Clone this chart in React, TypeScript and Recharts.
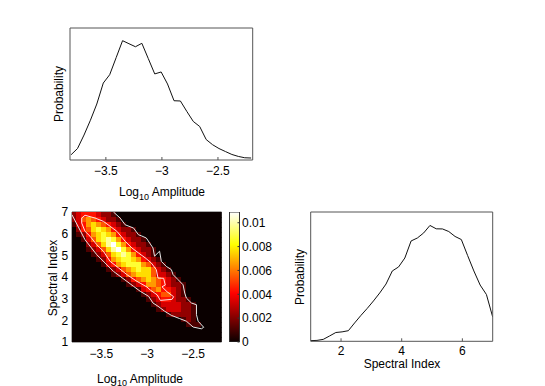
import React from "react";
import {
  LineChart, Line, ScatterChart, Scatter, BarChart, Bar,
  XAxis, YAxis,
} from "recharts";

const W = 545;
const H = 386;
const FONT = "'Liberation Sans', Arial, Helvetica, sans-serif";
const AXIS = "#555";

// marginal of log10 amplitude (bin centres, probability)
const ampBins = [
  -3.81, -3.753, -3.695, -3.638, -3.581, -3.523, -3.466, -3.408, -3.351, -3.294,
  -3.236, -3.179, -3.122, -3.064, -3.007, -2.95, -2.892, -2.835, -2.777, -2.72,
  -2.663, -2.605, -2.548, -2.491, -2.433, -2.376, -2.318, -2.261, -2.204,
];
const ampProb = [
  0.004, 0.0087, 0.0189, 0.0301, 0.0424, 0.0583, 0.0646, 0.0776, 0.0904, 0.0881,
  0.0858, 0.0884, 0.0769, 0.0652, 0.0667, 0.0576, 0.0449, 0.0447, 0.0367, 0.0292,
  0.0254, 0.0155, 0.0116, 0.0087, 0.0064, 0.0042, 0.0027, 0.0017, 0.0015,
];

// marginal of spectral index
const gammaBins = [
  1.0, 1.207, 1.414, 1.621, 1.828, 2.034, 2.241, 2.448, 2.655, 2.862,
  3.069, 3.276, 3.483, 3.69, 3.897, 4.103, 4.31, 4.517, 4.724, 4.931,
  5.138, 5.345, 5.552, 5.759, 5.966, 6.172, 6.379, 6.586, 6.793, 7.0,
];
const gammaProb = [
  0.0005, 0.0007, 0.0015, 0.0041, 0.0068, 0.0073, 0.0082, 0.0142, 0.02, 0.0254,
  0.0312, 0.0374, 0.0443, 0.0544, 0.0575, 0.0644, 0.0776, 0.0799, 0.0838, 0.0896,
  0.087, 0.0869, 0.0849, 0.0811, 0.0787, 0.0664, 0.0544, 0.0435, 0.0362, 0.0188,
];

const ampTicks = [-3.5, -3, -2.5];
const gammaTicks = [2, 4, 6];
const gammaGridTicks = [1, 2, 3, 4, 5, 6, 7];
const densityTicks = [0, 0.002, 0.004, 0.006, 0.008, 0.01];

const ampDomain: [number, number] = [-3.82, -2.19];
const gammaDomain: [number, number] = [1, 7];
const densityMax = 0.0109;

// joint density, rows from index 7 down to 1, columns from low to high amplitude
// each char is a tenth of densityMax (a = 10)
const densityRows = [
  "234443221000000000000000000000",
  "235654322100000000000000000000",
  "134676543210000000000000000000",
  "024578764322100000000000000000",
  "012467876432210000000000000000",
  "001357898643221000000000000000",
  "00023579a864322100000000000000",
  "000123579a86432210000000000000",
  "000012357898643210000000000000",
  "000001246788764321000000000000",
  "000000134678886532100000000000",
  "000000012356787753210000000000",
  "000000001235677753321000000000",
  "000000000012456765432100000000",
  "000000000001234665432210000000",
  "000000000000013456443210000000",
  "000000000000001234553210000000",
  "000000000000000123443221000000",
  "000000000000000012333322100000",
  "000000000000000001233322100000",
  "000000000000000000012222100000",
  "000000000000000000000012100000",
  "000000000000000000000001110000",
  "000000000000000000000000000000",
  "000000000000000000000000000000",
  "000000000000000000000000000000",
];

// outer (low level) contour, open at the plot edges
const outerContour = [
  [-3.82, 6.87], [-3.678, 5.72], [-3.55, 5.03], [-3.368, 4.26], [-3.222, 3.8],
  [-3.149, 3.57], [-3.076, 3.34], [-2.985, 3.11], [-2.937, 2.8], [-2.882, 2.65],
  [-2.81, 2.42], [-2.737, 2.23], [-2.646, 2.08], [-2.573, 1.96], [-2.499, 1.69],
  [-2.409, 1.61], [-2.384, 1.68], [-2.445, 1.96], [-2.463, 2.26], [-2.463, 2.72],
  [-2.518, 2.8], [-2.573, 3.03], [-2.591, 3.26], [-2.609, 3.64], [-2.664, 3.88],
  [-2.718, 4.11], [-2.737, 4.34], [-2.792, 4.49], [-2.846, 4.72], [-2.865, 5.19],
  [-2.92, 4.96], [-2.937, 5.34], [-3.01, 5.8], [-3.058, 5.89], [-3.095, 5.95],
  [-3.149, 6.26], [-3.24, 6.41], [-3.295, 6.72], [-3.368, 7.0],
];

// inner (high level) contour, closed
const innerContour = [
  [-3.714, 6.72], [-3.678, 6.85], [-3.568, 6.72], [-3.478, 6.57], [-3.404, 6.34],
  [-3.331, 6.11], [-3.24, 5.65], [-3.167, 5.34], [-3.095, 5.11], [-3.021, 4.88],
  [-2.956, 4.65], [-2.901, 4.34], [-2.882, 3.95], [-2.821, 3.94], [-2.803, 3.63],
  [-2.839, 3.55], [-2.784, 3.32], [-2.712, 3.09], [-2.729, 2.97], [-2.857, 2.92],
  [-2.89, 3.17], [-2.967, 3.4], [-3.003, 3.54], [-3.112, 3.8], [-3.222, 4.11],
  [-3.313, 4.42], [-3.404, 4.72], [-3.478, 5.19], [-3.55, 5.49], [-3.623, 5.88],
  [-3.678, 6.11], [-3.714, 6.49], [-3.714, 6.72],
];

const tickStyle = { fontSize: 12, fill: "#000", fontFamily: FONT };

const fmtMinus = (v: number) => (v < 0 ? "\u2212" + Math.abs(v) : String(v));

function hot(t: number) {
  const c = (v: number) => Math.round(255 * Math.min(1, Math.max(0, v)));
  return `rgb(${c(0.04 + t / 0.375)},${c((t - 0.375) / 0.375)},${c((t - 0.75) / 0.25)})`;
}

const nCols = densityRows[0].length;
const nRows = densityRows.length;
const cellDx = (ampDomain[1] - ampDomain[0]) / nCols;
const cellDy = (gammaDomain[1] - gammaDomain[0]) / nRows;
const cells = densityRows.flatMap((row, i) =>
  row.split("").map((ch, j) => ({
    x: ampDomain[0] + (j + 0.5) * cellDx,
    y: gammaDomain[1] - (i + 0.5) * cellDy,
    level: parseInt(ch, 16),
  }))
);

// heatmap plot box is 149.5 x 130 px
const CELL_W = 149.5 / nCols;
const CELL_H = 130 / nRows;

function HeatCell(props: any) {
  const { cx, cy, payload } = props;
  return (
    <rect
      x={cx - CELL_W / 2 - 0.5}
      y={cy - CELL_H / 2 - 0.5}
      width={CELL_W + 1}
      height={CELL_H + 1}
      fill={hot(payload.level / 10)}
      shapeRendering="crispEdges"
    />
  );
}

const NoPoint = () => <g />;

const ampData = ampBins.map((x, i) => ({ x, p: ampProb[i] }));
const gammaData = gammaBins.map((x, i) => ({ x, p: gammaProb[i] }));
const outerData = outerContour.map(([x, y]) => ({ x, y }));
const innerData = innerContour.map(([x, y]) => ({ x, y }));
const colorbarData = [{ name: "density", top: densityMax }];

const layer: React.CSSProperties = { position: "absolute", left: 0, top: 0 };

function AmplitudePanel() {
  // plot box: x 70..252.7, y 28..160
  return (
    <div style={layer}>
      <LineChart width={W} height={H} data={ampData}
        margin={{ top: 18, left: 60, right: 282.3, bottom: 206 }}>
        <XAxis type="number" dataKey="x" domain={ampDomain} allowDataOverflow
          ticks={ampTicks} tickFormatter={fmtMinus} height={20}
          tickSize={-3} tickMargin={9} stroke={AXIS} tick={tickStyle} />
        <XAxis xAxisId="top" orientation="top" type="number" dataKey="x"
          domain={ampDomain} allowDataOverflow ticks={ampTicks} height={10}
          tickSize={-3} tick={false} stroke={AXIS} />
        <YAxis domain={[0, 0.1]} width={10} tick={false} tickLine={false} stroke={AXIS} />
        <YAxis yAxisId="r" orientation="right" domain={[0, 0.1]} width={10}
          tick={false} tickLine={false} stroke={AXIS} />
        <Line type="linear" dataKey="p" stroke="#111" strokeWidth={1}
          dot={false} isAnimationActive={false} />
      </LineChart>
    </div>
  );
}

function JointPanel() {
  // plot box: x 72..221.5, y 212..342
  return (
    <div style={layer}>
      <ScatterChart width={W} height={H}
        margin={{ top: 207, left: 52, right: 318.5, bottom: 24 }}>
        <XAxis type="number" dataKey="x" domain={ampDomain} allowDataOverflow
          ticks={ampTicks} tickFormatter={fmtMinus} height={20}
          tickSize={0} tickLine={false} tickMargin={7.5} stroke={AXIS} tick={tickStyle} />
        <XAxis xAxisId="top" orientation="top" type="number" dataKey="x"
          domain={ampDomain} allowDataOverflow height={5} tick={false}
          tickLine={false} stroke={AXIS} />
        <YAxis type="number" dataKey="y" domain={gammaDomain} allowDataOverflow
          ticks={gammaGridTicks} width={20} tickSize={0} tickLine={false}
          tickMargin={3.7} stroke={AXIS} tick={tickStyle} />
        <YAxis yAxisId="r" orientation="right" type="number" dataKey="y"
          domain={gammaDomain} width={5} tick={false} tickLine={false} stroke={AXIS} />
        <Scatter data={cells} shape={HeatCell} isAnimationActive={false} />
        <Scatter data={outerData} line={{ stroke: "#e6e6e6", strokeWidth: 1 }}
          lineType="joint" shape={NoPoint} isAnimationActive={false} />
        <Scatter data={innerData} line={{ stroke: "#ffe2e2", strokeWidth: 1 }}
          lineType="joint" shape={NoPoint} isAnimationActive={false} />
      </ScatterChart>
    </div>
  );
}

function ColorbarPanel() {
  // plot box: x 229.5..239.5, y 212..342
  return (
    <div style={layer}>
      <BarChart width={W} height={H} data={colorbarData} barCategoryGap={0}
        margin={{ top: 212, left: 224.5, right: 265.5, bottom: 44 }}>
        <defs>
          <linearGradient id="hotScale" x1="0" y1="1" x2="0" y2="0">
            <stop offset="0" stopColor="rgb(10,0,0)" />
            <stop offset="0.375" stopColor="rgb(255,0,0)" />
            <stop offset="0.75" stopColor="rgb(255,255,0)" />
            <stop offset="1" stopColor="rgb(255,255,255)" />
          </linearGradient>
        </defs>
        <XAxis dataKey="name" hide />
        <YAxis domain={[0, densityMax]} allowDataOverflow ticks={densityTicks}
          width={5} tick={false} tickSize={-2} stroke="#333" />
        <YAxis yAxisId="r" orientation="right" domain={[0, densityMax]}
          allowDataOverflow ticks={densityTicks} width={40} tickSize={-2}
          tickMargin={4.5} stroke="#333" tick={tickStyle} />
        <Bar dataKey="top" fill="url(#hotScale)" stroke="#333" strokeWidth={1}
          isAnimationActive={false} />
      </BarChart>
    </div>
  );
}

function SpectralPanel() {
  // plot box: x 310.7..492.7, y 212..341.3
  return (
    <div style={layer}>
      <LineChart width={W} height={H} data={gammaData}
        margin={{ top: 207, left: 300.7, right: 42.3, bottom: 24.7 }}>
        <XAxis type="number" dataKey="x" domain={gammaDomain} allowDataOverflow
          ticks={gammaTicks} height={20} tickSize={-3} tickMargin={8.3}
          stroke={AXIS} tick={tickStyle} />
        <XAxis xAxisId="top" orientation="top" type="number" dataKey="x"
          domain={gammaDomain} allowDataOverflow ticks={gammaTicks} height={5}
          tickSize={-3} tick={false} stroke={AXIS} />
        <YAxis domain={[0, 0.1]} width={10} tick={false} tickLine={false} stroke={AXIS} />
        <YAxis yAxisId="r" orientation="right" domain={[0, 0.1]} width={10}
          tick={false} tickLine={false} stroke={AXIS} />
        <Line type="linear" dataKey="p" stroke="#111" strokeWidth={1}
          dot={false} isAnimationActive={false} />
      </LineChart>
    </div>
  );
}

function Titles() {
  return (
    <svg width={W} height={H} style={{ ...layer, pointerEvents: "none" }}
      fontFamily={FONT} fontSize={12} fill="#000">
      <text transform="translate(63,94) rotate(-90)" textAnchor="middle">Probability</text>
      <text x={162} y={196} textAnchor="middle">
        Log<tspan fontSize={9} dy={4}>10</tspan><tspan dy={-4}>{" Amplitude"}</tspan>
      </text>
      <text transform="translate(57,278) rotate(-90)" textAnchor="middle">Spectral Index</text>
      <text x={140} y={382.5} textAnchor="middle">
        Log<tspan fontSize={9} dy={3}>10</tspan><tspan dy={-3}>{" Amplitude"}</tspan>
      </text>
      <text transform="translate(304,277) rotate(-90)" textAnchor="middle">Probability</text>
      <text x={402} y={368} textAnchor="middle">Spectral Index</text>
    </svg>
  );
}

export default function App() {
  return (
    <div style={{ position: "absolute", left: 0, top: 0, width: W, height: H,
      background: "#fff", fontFamily: FONT, overflow: "hidden" }}>
      <AmplitudePanel />
      <JointPanel />
      <ColorbarPanel />
      <SpectralPanel />
      <Titles />
    </div>
  );
}
